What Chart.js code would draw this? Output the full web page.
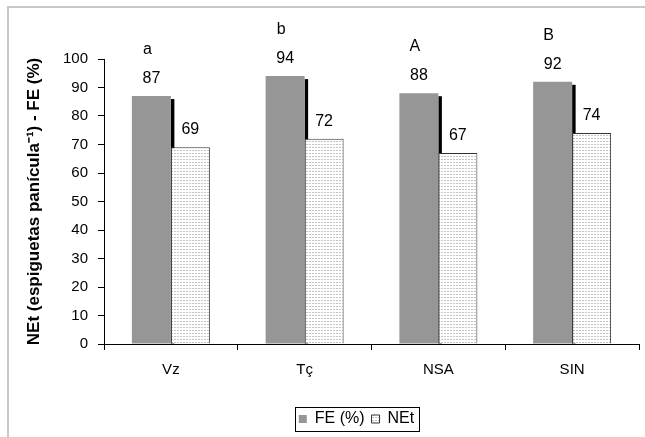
<!DOCTYPE html>
<html>
<head>
<meta charset="utf-8">
<script src="https://cdn.jsdelivr.net/npm/chart.js@4"></script>
<style>
    html, body { margin: 0; padding: 0; background: #fff; }
</style>
</head>
<body>
<canvas id="chart" width="645" height="437"></canvas>
<script>
let categories = ["Vz", "Tç", "NSA", "SIN"];
let feValues = [87, 94, 88, 92];
let netValues = [69, 72, 67, 74];
let groupLetters = ["a", "b", "A", "B"];
let yTickValues = [0, 10, 20, 30, 40, 50, 60, 70, 80, 90, 100];

let fontFamily = "'Liberation Sans', Arial, sans-serif";

function makeDotPattern(){
    let tile = document.createElement("canvas");
    tile.width = 3;
    tile.height = 3;
    let c = tile.getContext("2d");
    c.fillStyle = "#ffffff";
    c.fillRect(0, 0, 3, 3);
    c.fillStyle = "#c4c4c4";
    c.fillRect(0, 0, 2, 1);
    return document.getElementById("chart").getContext("2d").createPattern(tile, "repeat");
}

let dotPattern = makeDotPattern();

// light frame round the whole chart, only top and left edges show
let framePlugin = {
    id: "frame",
    beforeDraw(chart){
        let ctx = chart.ctx;
        ctx.save();
        ctx.fillStyle = "#fff";
        ctx.fillRect(0, 0, chart.width, chart.height);
        ctx.fillStyle = "#c8c8c8";
        ctx.fillRect(7, 6, 2, chart.height);
        ctx.fillRect(7, 6, chart.width, 2);
        ctx.restore();
    }
};

// the legend sits a bit right of the canvas centre in the original
let legendShiftPlugin = {
    id: "legendShift",
    afterUpdate(chart){
        let legend = chart.legend;
        let dx = 27;
        legend.left += dx;
        legend.right += dx;
        for(let hb of legend.legendHitBoxes){
            hb.left += dx;
        }
    }
};

// black shadow to the right of the grey bars
let shadowPlugin = {
    id: "barShadow",
    beforeDatasetsDraw(chart){
        let ctx = chart.ctx;
        let meta = chart.getDatasetMeta(0);
        ctx.save();
        ctx.fillStyle = "#000";
        for(let bar of meta.data){
            let right = bar.x + bar.width / 2;
            ctx.fillRect(right, bar.y + 3, 3.5, bar.base - bar.y - 3);
        }
        ctx.restore();
    }
};

let labelPlugin = {
    id: "valueLabels",
    afterDatasetsDraw(chart){
        let ctx = chart.ctx;
        ctx.save();
        ctx.fillStyle = "#000";
        ctx.textAlign = "center";
        ctx.textBaseline = "alphabetic";
        ctx.font = "16px " + fontFamily;
        chart.data.datasets.forEach((ds, di) => {
            let meta = chart.getDatasetMeta(di);
            meta.data.forEach((bar, i) => {
                ctx.fillText(String(ds.data[i]), bar.x, bar.y - 13);
            });
        });
        let feMeta = chart.getDatasetMeta(0);
        feMeta.data.forEach((bar, i) => {
            ctx.fillText(groupLetters[i], bar.x - 4, bar.y - 42);
        });
        ctx.restore();
    }
};

let legendBoxPlugin = {
    id: "legendBox",
    afterDraw(chart){
        let boxes = chart.legend.legendHitBoxes;
        if(!boxes || !boxes.length) return;
        let first = boxes[0];
        let last = boxes[boxes.length - 1];
        let ctx = chart.ctx;
        ctx.save();
        ctx.strokeStyle = "#000";
        ctx.lineWidth = 1;
        let left = Math.round(first.left - 4) + 0.5;
        let top = Math.round(first.top - 4) + 0.5;
        let right = Math.round(last.left + last.width + 5) + 0.5;
        let bottom = Math.round(first.top + first.height + 4) + 0.5;
        ctx.strokeRect(left, top, right - left, bottom - top);
        ctx.restore();
    }
};

new Chart(document.getElementById("chart"), {
    type: "bar",
    data: {
        labels: categories,
        datasets: [
            {
                label: "FE (%)",
                data: feValues,
                backgroundColor: "#969696",
                borderWidth: 0
            },
            {
                label: "NEt",
                data: netValues,
                backgroundColor: dotPattern,
                borderColor: "#333",
                borderWidth: 1
            }
        ]
    },
    options: {
        responsive: false,
        animation: false,
        datasets: {
            bar: {
                categoryPercentage: 0.583,
                barPercentage: 1
            }
        },
        layout: {
            padding: { left: 20, right: 6, top: 59, bottom: 0 }
        },
        plugins: {
            legend: {
                position: "bottom",
                labels: {
                    boxWidth: 8,
                    boxHeight: 8,
                    padding: 7,
                    color: "#000",
                    font: { family: fontFamily, size: 16 }
                }
            },
            tooltip: { enabled: false }
        },
        scales: {
            x: {
                grid: {
                    offset: true,
                    drawOnChartArea: false,
                    drawTicks: true,
                    tickLength: 6,
                    color: "#000"
                },
                border: { color: "#000", width: 1 },
                ticks: {
                    color: "#000",
                    padding: 11,
                    font: { family: fontFamily, size: 15 }
                },
                afterFit(scale){
                    scale.height = 60;
                }
            },
            y: {
                min: 0,
                max: 100,
                afterBuildTicks(scale){
                    scale.ticks = yTickValues.map(v => ({ value: v }));
                },
                grid: {
                    drawOnChartArea: false,
                    drawTicks: true,
                    tickLength: 6,
                    color: "#000"
                },
                border: { color: "#000", width: 1 },
                ticks: {
                    color: "#000",
                    padding: 10,
                    font: { family: fontFamily, size: 15 }
                },
                title: {
                    display: true,
                    text: "NEt (espiguetas panícula⁻¹) - FE (%)",
                    color: "#000",
                    font: { family: fontFamily, size: 17, weight: "bold" },
                    padding: { top: 4, bottom: 0 }
                },
                afterFit(scale){
                    scale.width = 84;
                }
            }
        }
    },
    plugins: [framePlugin, legendShiftPlugin, shadowPlugin, labelPlugin, legendBoxPlugin]
});
</script>
</body>
</html>
